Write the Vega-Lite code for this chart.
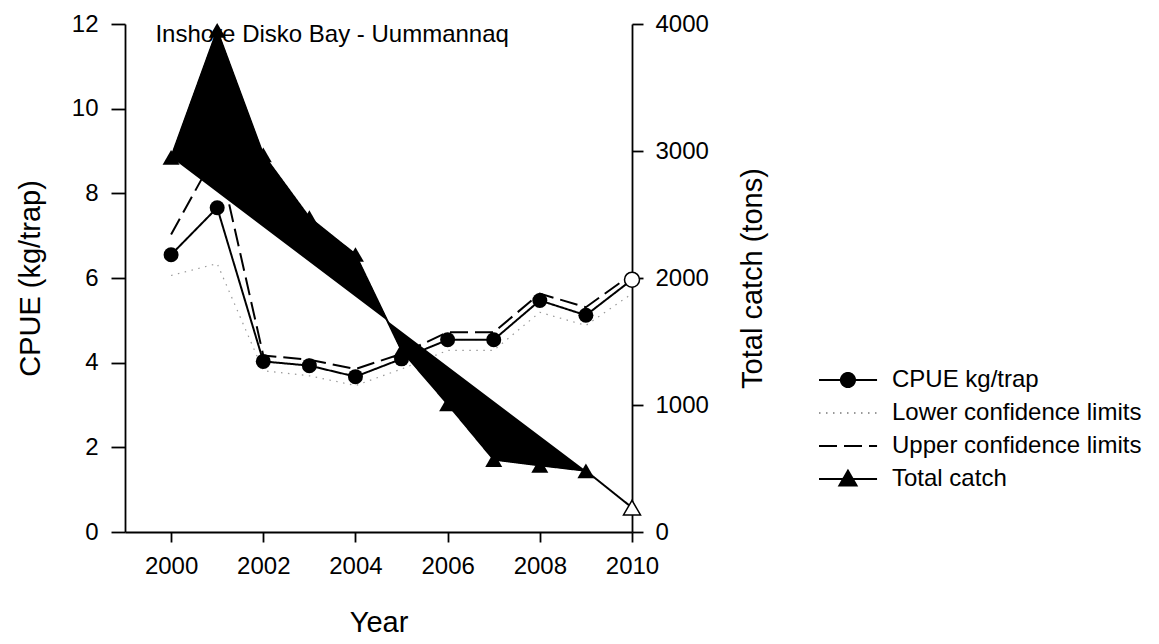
{
  "$schema": "https://vega.github.io/schema/vega-lite/v6.json",
  "width": 507,
  "height": 508,
  "autosize": "none",
  "padding": {"left": 125, "top": 24, "right": 527, "bottom": 112},
  "background": "white",
  "config": {
    "view": {"stroke": null},
    "font": "Liberation Sans",
    "axis": {
      "labelFont": "Liberation Sans", "titleFont": "Liberation Sans",
      "labelColor": "black", "titleColor": "black",
      "domainColor": "black", "tickColor": "black",
      "grid": false, "labelFontSize": 24, "titleFontSize": 29,
      "titleFontWeight": "normal", "domainWidth": 1.8, "tickWidth": 1.8
    },
    "legend": {"labelFont": "Liberation Sans", "labelFontSize": 24, "labelColor": "black", "labelLimit": 500,
               "symbolFillColor": "black", "symbolStrokeWidth": 2, "symbolOpacity": 1}
  },
  "data": {
    "values": [
      {"year": 2000, "cpue": 6.55, "lower": 6.06, "upper": 7.03, "catch": 2950, "note": "Inshore Disko Bay - Uummannaq"},
      {"year": 2001, "cpue": 7.66, "lower": 6.34, "upper": 9.0, "catch": 3950},
      {"year": 2002, "cpue": 4.03, "lower": 3.81, "upper": 4.17, "catch": 2970},
      {"year": 2003, "cpue": 3.93, "lower": 3.69, "upper": 4.07, "catch": 2475},
      {"year": 2004, "cpue": 3.67, "lower": 3.46, "upper": 3.85, "catch": 2185},
      {"year": 2005, "cpue": 4.09, "lower": 3.85, "upper": 4.21, "catch": 1430},
      {"year": 2006, "cpue": 4.54, "lower": 4.29, "upper": 4.72, "catch": 1008},
      {"year": 2007, "cpue": 4.54, "lower": 4.29, "upper": 4.72, "catch": 570},
      {"year": 2008, "cpue": 5.47, "lower": 5.19, "upper": 5.63, "catch": 525},
      {"year": 2009, "cpue": 5.12, "lower": 4.88, "upper": 5.31, "catch": 482},
      {"year": 2010, "cpue": 5.96, "lower": 5.63, "upper": 6.09, "catch": 192}
    ]
  },
  "layer": [
    {
      "layer": [
        {
          "transform": [{"filter": "datum.year == 2000"}],
          "mark": {"type": "text", "align": "left", "baseline": "middle", "fontSize": 24, "font": "Liberation Sans", "fill": "black"},
          "encoding": {
            "x": {"datum": 1999.66, "type": "quantitative", "scale": {"domain": [1999, 2010], "nice": false, "zero": false},
                  "axis": {"values": [2000, 2002, 2004, 2006, 2008, 2010], "format": "d", "title": "Year",
                           "tickSize": 10, "labelPadding": 12, "titlePadding": 30, "labelFlush": false}},
            "y": {"datum": 11.75, "type": "quantitative", "scale": {"domain": [0, 12], "nice": false, "zero": false},
                  "axis": {"orient": "left", "values": [0, 2, 4, 6, 8, 10, 12], "title": "CPUE (kg/trap)", "tickSize": 14, "labelPadding": 13, "titlePadding": 26}},
            "text": {"field": "note", "type": "nominal"}
          }
        },
        {
          "mark": {"type": "line", "strokeWidth": 1.2},
          "encoding": {
            "x": {"field": "year", "type": "quantitative"},
            "y": {"field": "lower", "type": "quantitative"},
            "strokeDash": {
              "datum": "Lower confidence limits",
              "scale": {
                "domain": ["CPUE kg/trap", "Lower confidence limits", "Upper confidence limits", "Total catch"],
                "range": [[1, 0], [1.5, 5.5], [18, 7], [1, 0]]
              },
              "legend": {"orient": "none", "legendX": 693, "legendY": 340, "title": null,
                         "padding": 0, "rowPadding": 5, "symbolSize": 900, "symbolOffset": 0, "labelOffset": 42}
            },
            "stroke": {
              "datum": "Lower confidence limits",
              "scale": {
                "domain": ["CPUE kg/trap", "Lower confidence limits", "Upper confidence limits", "Total catch"],
                "range": ["black", "#999999", "black", "black"]
              },
              "legend": {"orient": "none", "legendX": 693, "legendY": 340, "title": null,
                         "padding": 0, "rowPadding": 5, "symbolSize": 900, "symbolOffset": 0, "labelOffset": 42}
            }
          }
        },
        {
          "mark": {"type": "line", "strokeWidth": 2},
          "encoding": {
            "x": {"field": "year", "type": "quantitative"},
            "y": {"field": "upper", "type": "quantitative"},
            "strokeDash": {"datum": "Upper confidence limits"},
            "stroke": {"datum": "Upper confidence limits"}
          }
        },
        {
          "mark": {"type": "line", "strokeWidth": 2},
          "encoding": {
            "x": {"field": "year", "type": "quantitative"},
            "y": {"field": "cpue", "type": "quantitative"},
            "strokeDash": {"datum": "CPUE kg/trap"},
            "stroke": {"datum": "CPUE kg/trap"}
          }
        },
        {
          "transform": [{"filter": "datum.year < 0"}],
          "mark": {"type": "point", "filled": true, "opacity": 1},
          "encoding": {
            "x": {"field": "year", "type": "quantitative"},
            "y": {"field": "cpue", "type": "quantitative"},
            "shape": {
              "datum": "CPUE kg/trap",
              "scale": {
                "domain": ["CPUE kg/trap", "Lower confidence limits", "Upper confidence limits", "Total catch"],
                "range": [
                  "M-1,0H2.87M0.46,0A0.47,0.47,0,1,0,1.4,0A0.47,0.47,0,1,0,0.46,0Z",
                  "M-1,0H2.87",
                  "M-1,0H2.87",
                  "M-1,0H2.87M0.93,-0.55L1.5,0.43L0.36,0.43Z"
                ]
              },
              "legend": {"orient": "none", "legendX": 693, "legendY": 340, "title": null,
                         "padding": 0, "rowPadding": 5, "symbolSize": 900, "symbolOffset": 0, "labelOffset": 42}
            }
          }
        },
        {
          "transform": [{"filter": "datum.year < 2010"}],
          "mark": {"type": "point", "shape": "circle", "filled": true, "size": 225, "color": "black", "opacity": 1},
          "encoding": {
            "x": {"field": "year", "type": "quantitative"},
            "y": {"field": "cpue", "type": "quantitative"}
          }
        },
        {
          "transform": [{"filter": "datum.year == 2010"}],
          "mark": {"type": "point", "shape": "circle", "filled": false, "fill": "white", "stroke": "black", "strokeWidth": 1.5, "size": 225, "opacity": 1},
          "encoding": {
            "x": {"field": "year", "type": "quantitative"},
            "y": {"field": "cpue", "type": "quantitative"}
          }
        }
      ]
    },
    {
      "layer": [
        {
          "transform": [{"filter": "datum.year <= 2009"}],
          "mark": {"type": "line", "fill": "black", "stroke": "black", "strokeWidth": 1},
          "encoding": {
            "x": {"field": "year", "type": "quantitative"},
            "y": {"field": "catch", "type": "quantitative", "scale": {"domain": [0, 4000], "nice": false},
                  "axis": {"orient": "right", "values": [0, 1000, 2000, 3000, 4000], "format": "d", "title": "Total catch (tons)",
                           "tickSize": 11, "labelPadding": 12, "titlePadding": 30, "titleAngle": 270, "titleBaseline": "top"}}
          }
        },
        {
          "mark": {"type": "line", "strokeWidth": 2},
          "encoding": {
            "x": {"field": "year", "type": "quantitative"},
            "y": {"field": "catch", "type": "quantitative"},
            "strokeDash": {"datum": "Total catch"},
            "stroke": {"datum": "Total catch"}
          }
        },
        {
          "transform": [{"filter": "datum.year < 2010"}],
          "mark": {"type": "point", "shape": "triangle-up", "filled": true, "size": 289, "color": "black", "opacity": 1},
          "encoding": {
            "x": {"field": "year", "type": "quantitative"},
            "y": {"field": "catch", "type": "quantitative"}
          }
        },
        {
          "transform": [{"filter": "datum.year == 2010"}],
          "mark": {"type": "point", "shape": "triangle-up", "filled": false, "fill": "white", "stroke": "black", "strokeWidth": 1.5, "size": 289, "opacity": 1},
          "encoding": {
            "x": {"field": "year", "type": "quantitative"},
            "y": {"field": "catch", "type": "quantitative"}
          }
        }
      ]
    }
  ],
  "resolve": {"scale": {"y": "independent"}}
}
